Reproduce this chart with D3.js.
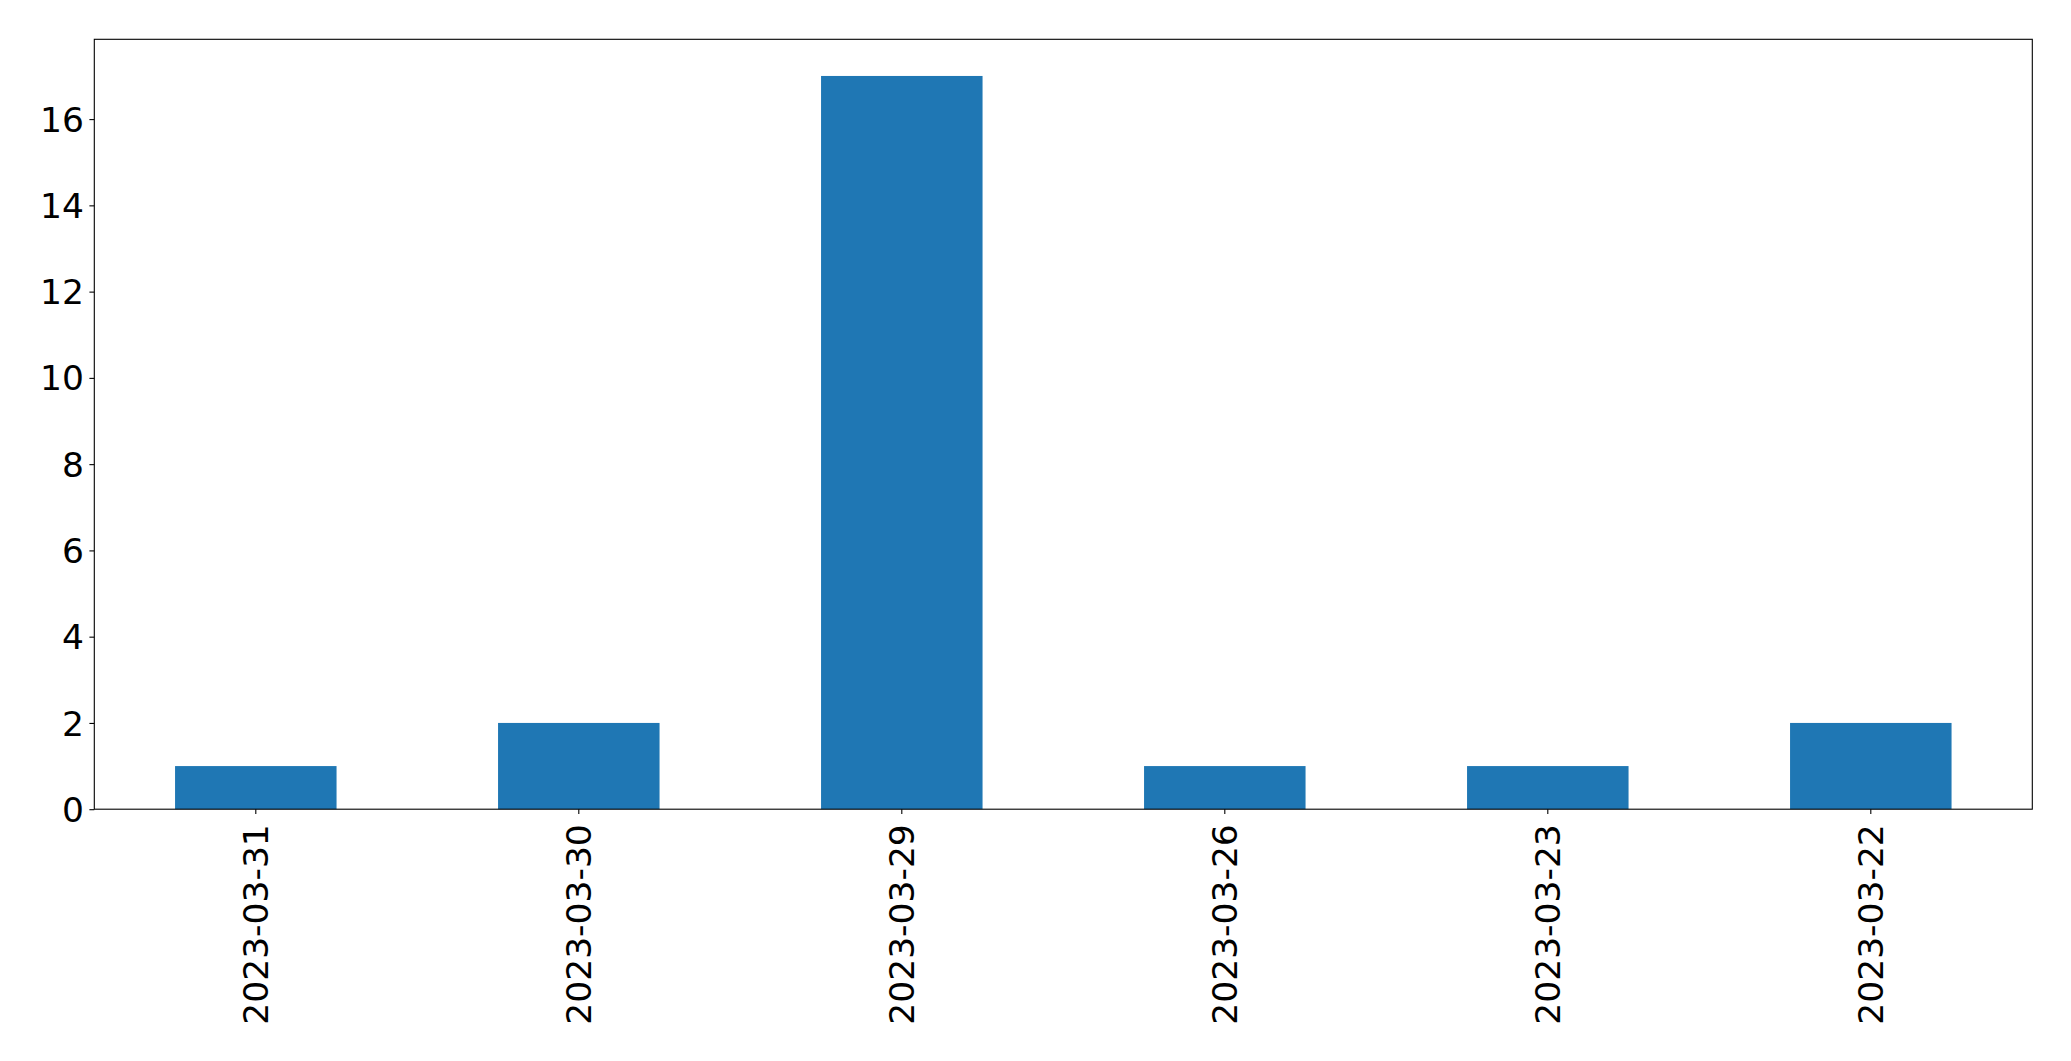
<!DOCTYPE html>
<html><head><meta charset="utf-8">
<script src="https://cdn.jsdelivr.net/npm/d3@7"></script>
<style>body{margin:0;background:#fff}svg{display:block}</style>
</head><body>
<script>
const categories = ["2023-03-31","2023-03-30","2023-03-29","2023-03-26","2023-03-23","2023-03-22"];
const values = [1, 2, 17, 1, 1, 2];
const yTicks = [0, 2, 4, 6, 8, 10, 12, 14, 16];

const W = 2071, H = 1061;
const m = {left: 94.3, right: 2032.3, top: 39.3, bottom: 809.2};
const svg = d3.select("body").append("svg").attr("width", W).attr("height", H);

const x = d3.scaleBand().domain(categories).range([m.left, m.right]).paddingInner(0.5).paddingOuter(0.25);
const yMax = d3.max(values) * 1.05;
const y = d3.scaleLinear().domain([0, yMax]).range([m.bottom, m.top]);

svg.append("g").selectAll("rect").data(values).join("rect")
  .attr("x", (d, i) => x(categories[i]))
  .attr("width", x.bandwidth())
  .attr("y", d => y(d))
  .attr("height", d => y(0) - y(d))
  .attr("fill", "#1f77b4");

const font = "'DejaVu Sans', sans-serif";
const fs = "34.5px";
const xAxis = svg.append("g").attr("transform", `translate(0,${m.bottom})`)
  .call(d3.axisBottom(x).tickSize(4.9).tickPadding(4.9).tickSizeOuter(0));
xAxis.select(".domain").remove();
xAxis.selectAll("line").attr("stroke", "#000").attr("stroke-width", 1.1);
xAxis.selectAll("text")
  .attr("font-family", font).attr("font-size", fs).attr("fill", "#000")
  .attr("text-anchor", "end").attr("dy", "0.35em")
  .attr("transform", "translate(0,15) rotate(-90)")
  .attr("x", 0).attr("y", 0);

const yAxis = svg.append("g").attr("transform", `translate(${m.left},0)`)
  .call(d3.axisLeft(y).tickValues(yTicks).tickSize(4.9).tickPadding(5.5).tickSizeOuter(0));
yAxis.select(".domain").remove();
yAxis.selectAll("line").attr("stroke", "#000").attr("stroke-width", 1.1);
yAxis.selectAll("text").attr("font-family", font).attr("font-size", fs).attr("fill", "#000").attr("dy", "0.35em");

svg.append("rect").attr("x", m.left).attr("y", m.top)
  .attr("width", m.right - m.left).attr("height", m.bottom - m.top)
  .attr("fill", "none").attr("stroke", "#000").attr("stroke-width", 1.1);
</script>
</body></html>
